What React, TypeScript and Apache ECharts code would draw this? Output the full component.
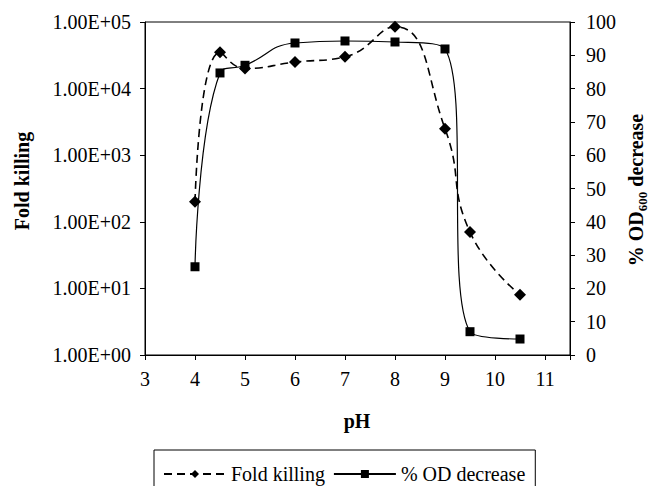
import React, { useEffect, useRef } from "react";
import * as echarts from "echarts";

const phValues = [4, 4.5, 5, 6, 7, 8, 9, 9.5, 10.5];
const foldKilling = [200, 35000, 20000, 25000, 30000, 85000, 2500, 70, 8];
const odDecrease = [26.5, 84.7, 87, 93.7, 94.3, 94, 91.9, 7, 4.8];
const leftTickLabels = ["1.00E+00", "1.00E+01", "1.00E+02", "1.00E+03", "1.00E+04", "1.00E+05"];
const seriesNames = ["Fold killing", "% OD decrease"];

const FONT = "Liberation Serif";

export default function App() {
  const ref = useRef<HTMLDivElement>(null);
  useEffect(() => {
    if (!ref.current) return;
    document.body.style.margin = "0";
    const chart = echarts.init(ref.current, undefined, { renderer: "svg" });
    const labelStyle = { color: "#000", fontFamily: FONT, fontSize: 20 };
    chart.setOption({
      animation: false,
      grid: {
        left: 145,
        right: 79,
        top: 22,
        bottom: 131,
        show: true,
        borderColor: "#000",
        borderWidth: 1,
        containLabel: false,
      },
      xAxis: {
        type: "value",
        min: 3,
        max: 11.5,
        interval: 1,
        splitLine: { show: false },
        axisLine: { show: true, onZero: false, lineStyle: { color: "#000", width: 1 } },
        axisTick: { show: true, length: 5, lineStyle: { color: "#000" } },
        axisLabel: {
          ...labelStyle,
          margin: 14,
          formatter: (v: number) => (Number.isInteger(v) ? String(v) : ""),
        },
      },
      yAxis: [
        {
          type: "log",
          logBase: 10,
          min: 1,
          max: 100000,
          splitLine: { show: false },
          axisLine: { show: true, lineStyle: { color: "#000", width: 1 } },
          axisTick: { show: true, length: 5, lineStyle: { color: "#000" } },
          axisLabel: {
            ...labelStyle,
            margin: 14,
            formatter: (v: number) => leftTickLabels[Math.round(Math.log10(v))] ?? "",
          },
        },
        {
          type: "value",
          min: 0,
          max: 100,
          interval: 10,
          position: "right",
          splitLine: { show: false },
          axisLine: { show: true, lineStyle: { color: "#000", width: 1 } },
          axisTick: { show: true, length: 5, lineStyle: { color: "#000" } },
          axisLabel: { ...labelStyle, margin: 16 },
        },
      ],
      legend: {
        left: 154,
        top: 450,
        orient: "horizontal",
        padding: [14, 10, 14, 9],
        borderColor: "#000",
        borderWidth: 1,
        itemWidth: 62,
        itemHeight: 10,
        itemGap: 8,
        textStyle: { color: "#000", fontFamily: FONT, fontSize: 20 },
        data: seriesNames,
      },
      series: [
        {
          name: seriesNames[0],
          type: "line",
          yAxisIndex: 0,
          smooth: 0.5,
          data: phValues.map((x, i) => [x, foldKilling[i]]),
          symbol: "diamond",
          symbolSize: 12,
          itemStyle: { color: "#000" },
          lineStyle: { color: "#000", width: 1.6, type: [8, 5] },
        },
        {
          name: seriesNames[1],
          type: "line",
          yAxisIndex: 1,
          smooth: 0.5,
          data: phValues.map((x, i) => [x, odDecrease[i]]),
          symbol: "rect",
          symbolSize: 9,
          itemStyle: { color: "#000" },
          lineStyle: { color: "#000", width: 1.2, type: "solid" },
        },
      ],
      graphic: [
        {
          type: "text",
          x: 22,
          y: 181,
          rotation: Math.PI / 2,
          style: {
            text: "Fold killing",
            fontFamily: FONT,
            fontSize: 20,
            fontWeight: "bold",
            fill: "#000",
            align: "center",
            verticalAlign: "middle",
          },
        },
        {
          type: "text",
          x: 636,
          y: 190,
          rotation: Math.PI / 2,
          style: {
            text: "{b|% OD}{s|600}{b| decrease}",
            fontFamily: FONT,
            fontSize: 20,
            fontWeight: "bold",
            fill: "#000",
            align: "center",
            verticalAlign: "middle",
            rich: {
              b: { fontFamily: FONT, fontSize: 20, fontWeight: "bold", lineHeight: 26, verticalAlign: "middle", fill: "#000" },
              s: { fontFamily: FONT, fontSize: 13, fontWeight: "bold", verticalAlign: "bottom", fill: "#000" },
            },
          },
        },
        {
          type: "text",
          x: 357,
          y: 421,
          style: {
            text: "pH",
            fontFamily: FONT,
            fontSize: 20,
            fontWeight: "bold",
            fill: "#000",
            align: "center",
            verticalAlign: "middle",
          },
        },
      ],
    });
    return () => chart.dispose();
  }, []);
  return <div ref={ref} style={{ width: 649, height: 486, background: "#fff" }} />;
}
